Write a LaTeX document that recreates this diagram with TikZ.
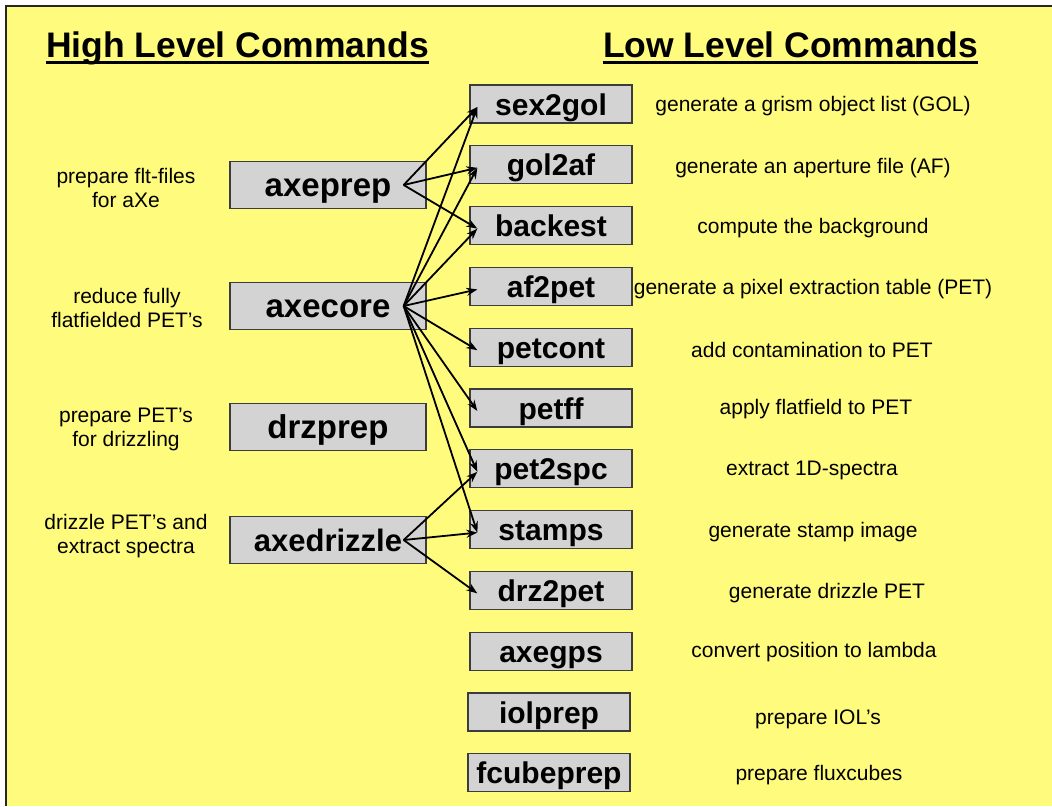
\documentclass[tikz,border=0pt]{standalone}
\usepackage{fontspec}
\setmainfont{Liberation Sans}
\usetikzlibrary{arrows.meta}
\definecolor{bgyellow}{RGB}{255,251,125}
\definecolor{boxgray}{RGB}{211,211,211}
\definecolor{boxline}{RGB}{60,60,60}
\tikzset{
 hibox/.style={draw=boxline, line width=1.3pt, fill=boxgray, minimum width=196pt, minimum height=47pt, inner sep=0pt, text height=25pt, text depth=3pt, font=\fontsize{33}{33}\selectfont\bfseries},
 lobox/.style={draw=boxline, line width=1.3pt, fill=boxgray, minimum width=162pt, minimum height=38pt, inner sep=0pt, text height=24pt, text depth=2pt, font=\fontsize{30}{30}\selectfont\bfseries},
 desc/.style={font=\fontsize{21}{24}\selectfont, align=center, inner sep=0pt},
 heading/.style={font=\fontsize{35.5}{36}\selectfont\bfseries, inner sep=0pt, anchor=base},
 link/.style={line width=1.8pt, -{Stealth[length=11pt,width=8pt]}},
}
\begin{document}
\begin{tikzpicture}[x=1pt,y=-1pt]
\useasboundingbox (0,0) rectangle (1052,806);
\fill[bgyellow] (6,6) rectangle (1052,806);
\draw[line width=1.8pt, black!85] (6,806) -- (6,6) -- (1052,6);

% headings
\node[heading] (hl) at (237.5,57) {High Level Commands};
\draw[line width=3pt] ([yshift=-5pt]hl.base west) -- ([yshift=-5pt]hl.base east);
\node[heading] (ll) at (790.5,57) {Low Level Commands};
\draw[line width=3pt] ([yshift=-5pt]ll.base west) -- ([yshift=-5pt]ll.base east);

% high level boxes
\node[hibox] (axeprep) at (328,185) {axeprep};
\node[hibox] (axecore) at (328,306) {axecore};
\node[hibox] (drzprep) at (328,427) {drzprep};
\node[hibox, font=\fontsize{31}{31}\selectfont\bfseries] (axedrizzle) at (328,540) {axedrizzle};

% high level descriptions
\node[desc] (d-axeprep) at (126,188) {prepare flt-files\\for aXe};
\node[desc] (d-axecore) at (127,308) {reduce fully\\flatfielded PET’s};
\node[desc] (d-drzprep) at (126,429) {prepare PET’s\\for drizzling};
\node[desc] (d-axedrizzle) at (126,536) {drizzle PET’s and\\extract spectra};

% low level boxes
\node[lobox] (sex2gol) at (551,104) {sex2gol};
\node[lobox] (gol2af) at (551,164.8) {gol2af};
\node[lobox] (backest) at (551,225.6) {backest};
\node[lobox] (af2pet) at (551,286.4) {af2pet};
\node[lobox] (petcont) at (551,347.2) {petcont};
\node[lobox] (petff) at (551,408) {petff};
\node[lobox] (pet2spc) at (551,468.8) {pet2spc};
\node[lobox] (stamps) at (551,529.6) {stamps};
\node[lobox] (drz2pet) at (551,590.4) {drz2pet};
\node[lobox] (axegps) at (551,651.2) {axegps};
\node[lobox] (iolprep) at (549,712) {iolprep};
\node[lobox] (fcubeprep) at (549,772.8) {fcubeprep};

% low level descriptions
\node[desc] (t-sex2gol) at (813,106) {generate a grism object list (GOL)};
\node[desc] (t-gol2af) at (813,168) {generate an aperture file (AF)};
\node[desc] (t-backest) at (813,228) {compute the background};
\node[desc] (t-af2pet) at (813,289) {generate a pixel extraction table (PET)};
\node[desc] (t-petcont) at (812,350) {add contamination to PET};
\node[desc] (t-petff) at (816,409) {apply flatfield to PET};
\node[desc] (t-pet2spc) at (812,470) {extract 1D-spectra};
\node[desc] (t-stamps) at (813,532) {generate stamp image};
\node[desc] (t-drz2pet) at (827,593) {generate drizzle PET};
\node[desc] (t-axegps) at (814,652) {convert position to lambda};
\node[desc] (t-iolprep) at (818,719) {prepare IOL’s};
\node[desc] (t-fcubeprep) at (819,775) {prepare fluxcubes};

% connector end points
\foreach \n in {axeprep,axecore,axedrizzle}
  \coordinate (\n-o) at ([xshift=-23pt]\n.east);
\foreach \n in {sex2gol,gol2af,backest,af2pet,petcont,petff,pet2spc,stamps,drz2pet}
  \coordinate (\n-i) at ([xshift=8pt,yshift=-3pt]\n.west);

% connectors
\foreach \t in {sex2gol,gol2af,backest}
  \draw[link] (axeprep-o) -- (\t-i);
\foreach \t in {sex2gol,gol2af,backest,af2pet,petcont,petff,pet2spc,stamps}
  \draw[link] (axecore-o) -- (\t-i);
\foreach \t in {pet2spc,stamps,drz2pet}
  \draw[link] (axedrizzle-o) -- (\t-i);
\end{tikzpicture}
\end{document}
